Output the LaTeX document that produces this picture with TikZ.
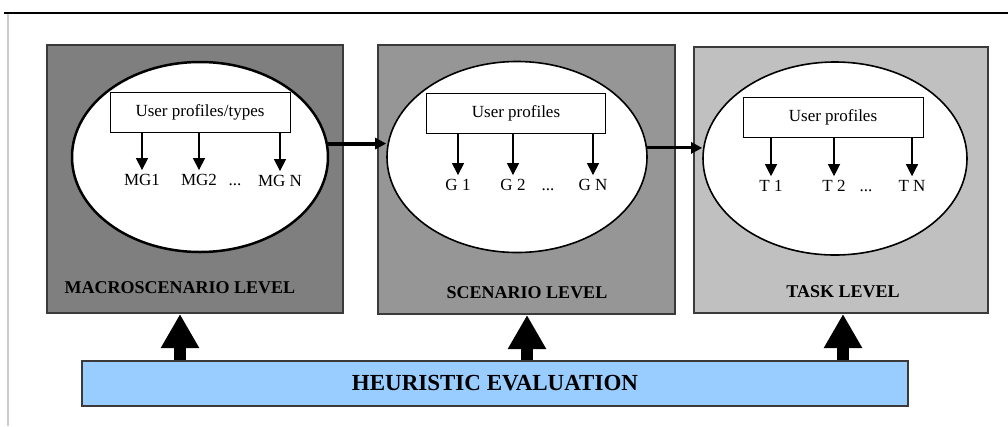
\documentclass[tikz,border=0pt]{standalone}
\usepackage{fontspec}
\setmainfont{Liberation Serif}
\usetikzlibrary{arrows.meta,shapes.geometric}

\definecolor{macrogray}{HTML}{7F7F7F}
\definecolor{scengray}{HTML}{969696}
\definecolor{taskgray}{HTML}{C0C0C0}
\definecolor{heurblue}{HTML}{99CCFF}
\definecolor{edgegray}{HTML}{3A3A3A}

\tikzset{
  levelbox/.style={draw=edgegray,line width=2pt,inner sep=0pt},
  goalset/.style={ellipse,draw,fill=white,line width=1.6pt,inner sep=0pt},
  profbox/.style={draw,fill=white,line width=1pt,inner sep=0pt,font=\fontsize{17}{19}\selectfont},
  goal/.style={font=\fontsize{17}{19}\selectfont,inner sep=4pt},
  levelname/.style={font=\bfseries\fontsize{18}{20}\selectfont},
  thinarr/.style={-{Triangle[width=12pt,length=12pt]},line width=1.2pt},
  flowarr/.style={-{Triangle[width=11pt,length=11pt]},line width=3pt},
  bigarr/.style={-{Triangle[width=36pt,length=34pt]},line width=12pt}
}

\begin{document}
\begin{tikzpicture}[x=1pt,y=-1pt]
  \useasboundingbox (0,0) rectangle (1008,426);
  \draw[black!20,line width=2pt] (8,14) -- (8,426);
  \draw[line width=2pt] (4,13) -- (1008,13);
  % the three levels
  \node[levelbox,fill=macrogray,minimum width=296pt,minimum height=268pt] (b1) at (195,179) {};
  \node[levelbox,fill=scengray,minimum width=297pt,minimum height=269pt] (b2) at (526.5,179.5) {};
  \node[levelbox,fill=taskgray,minimum width=294pt,minimum height=266pt] (b3) at (841,180) {};
  \node[goalset,line width=2.5pt,minimum width=256pt,minimum height=190pt] (e1) at (200,157) {};
  \node[goalset,minimum width=260pt,minimum height=191pt] (e2) at (517,157) {};
  \node[goalset,minimum width=264pt,minimum height=193pt] (e3) at (835,158.5) {};
  \node[profbox,minimum width=180pt,minimum height=40pt] (p1) at (200,112) {User profiles/types};
  \node[profbox,minimum width=179pt,minimum height=40pt] (p2) at (516,113) {User profiles};
  \node[profbox,minimum width=180pt,minimum height=40pt] (p3) at (833,117.5) {User profiles};
  % goals
  \node[goal] (mg1) at (142,180) {MG1};
  \node[goal] (mg2) at (199,180) {MG2};
  \node[goal] (mgn) at (280,181) {MG N};
  \node[goal,inner sep=0pt] (md) at (235,185) {...};
  \node[goal] (g1) at (458,185) {G 1};
  \node[goal] (g2) at (513,185) {G 2};
  \node[goal] (gn) at (593,185) {G N};
  \node[goal,inner sep=0pt] (gd) at (548,190) {...};
  \node[goal] (t1) at (771,186) {T 1};
  \node[goal] (t2) at (834,186) {T 2};
  \node[goal] (tn) at (912,186) {T N};
  \node[goal,inner sep=0pt] (td) at (866,191) {...};
  \foreach \g in {mg1,mg2,mgn}
    \draw[thinarr] (p1.south -| \g) -- (\g.north);
  \foreach \g in {g1,g2,gn}
    \draw[thinarr] (p2.south -| \g) -- (\g.north);
  \foreach \g in {t1,t2,tn}
    \draw[thinarr] (p3.south -| \g) -- (\g.north);
  \draw[flowarr,line width=4pt] (e1.6) -- (e1.6 -| e2.west);
  \draw[flowarr] (e2.4) -- (e2.4 -| e3.west);
  \node[levelname] (lv1) at (180,288) {MACROSCENARIO LEVEL};
  \node[levelname] (lv2) at (527,293) {SCENARIO LEVEL};
  \node[levelname] (lv3) at (843,292) {TASK LEVEL};
  % evaluation bar
  \node[draw=edgegray,line width=2.5pt,fill=heurblue,minimum width=826pt,minimum height=45pt,
    font=\bfseries\fontsize{23}{25}\selectfont] (bar) at (495,383.5) {HEURISTIC EVALUATION};
  \foreach \l/\b in {lv1/b1,lv2/b2,lv3/b3}
    \draw[bigarr] (bar.north -| \l) -- (\b.south -| \l);
\end{tikzpicture}
\end{document}
